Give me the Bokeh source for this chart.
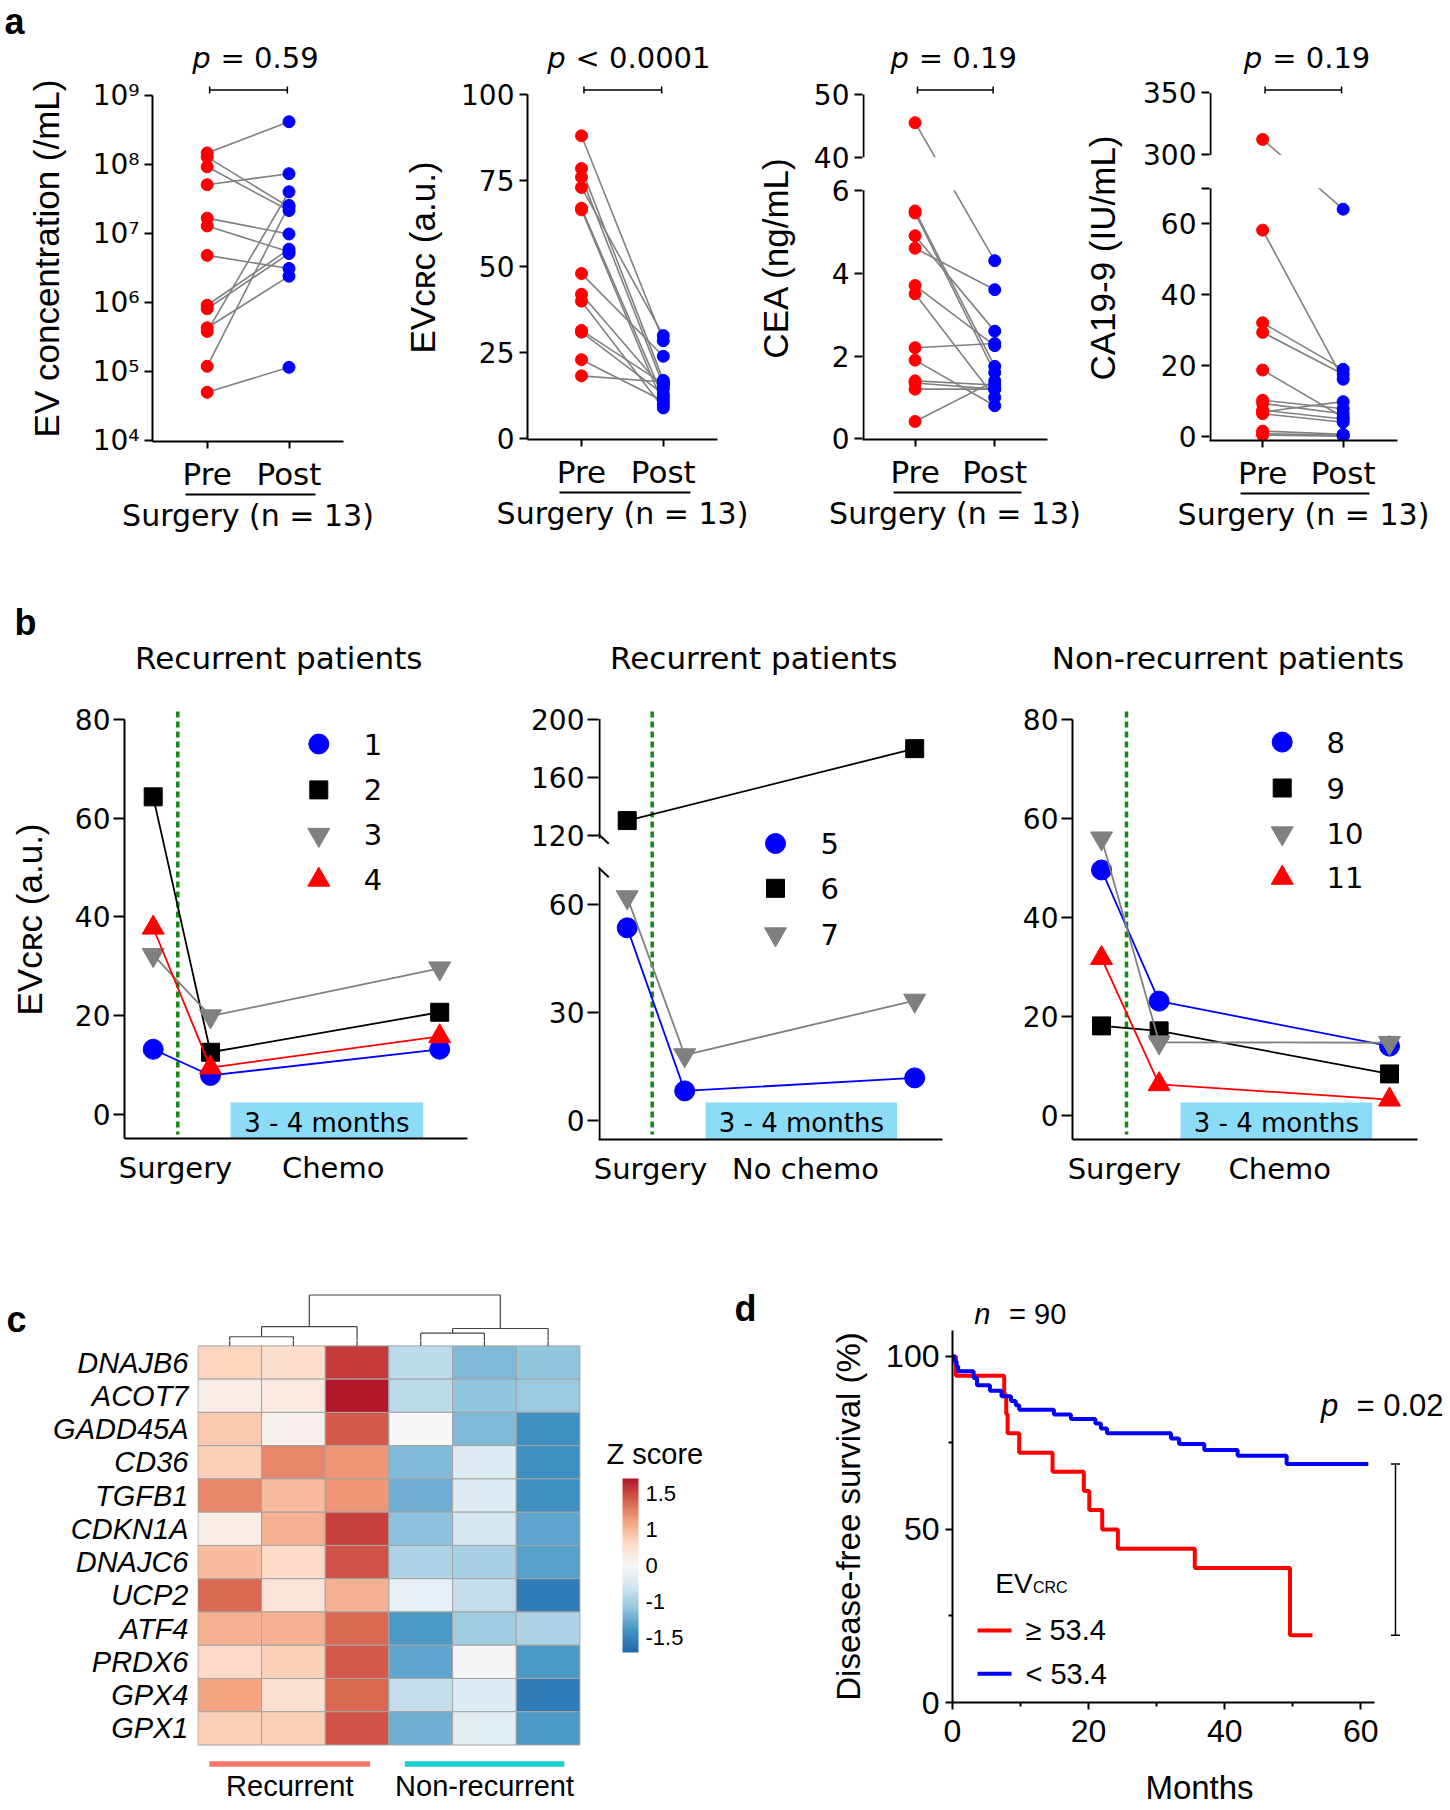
import math
from bokeh.plotting import figure
from bokeh.models import (Range1d, FixedTicker, LinearAxis, LinearColorMapper, ColorBar,
                          ColumnDataSource, AllLabels)
from bokeh.layouts import row, column
from bokeh.core.properties import value
from bokeh.transform import transform
from bokeh.embed import file_html
from bokeh.resources import INLINE

# ============================ DATA ============================
# Panel a: paired values before / after surgery (n = 13)
pair_x = [1, 2]
pair_labels = ["Pre", "Post"]
ev_conc_pre = [1.46e8, 1.27e8, 9.2e7, 5.06e7, 1.66e7, 1.28e7, 4.8e6, 9.1e5, 8.1e5, 4.3e5, 3.8e5, 1.19e5, 5.0e4]
ev_conc_post = [4.13e8, 2.4e7, 2.14e7, 7.3e7, 9.8e6, 5.4e6, 3.1e6, 5.9e6, 5.1e6, 2.4e6, 4.0e7, 2.54e7, 1.15e5]
evcrc_pre = [88, 78.5, 76, 73, 67, 66.5, 48, 42, 40, 31.5, 31, 23, 18.3]
evcrc_post = [28.5, 17, 15.5, 30, 12, 10, 24, 14.5, 9, 16, 13, 11, 16.5]
cea_pre = [45.5, 5.5, 5.45, 4.9, 4.6, 3.7, 3.5, 2.2, 1.9, 1.4, 1.35, 1.2, 0.42]
cea_post = [4.3, 1.75, 1.6, 2.6, 3.6, 2.25, 1.0, 2.3, 0.8, 1.3, 1.2, 1.2, 1.4]
ca199_pre = [312.5, 58.2, 32.1, 29.4, 18.8, 10.3, 9.4, 7.5, 7.0, 6.5, 1.6, 0.9, 0.5]
ca199_post = [64.1, 16.2, 19.0, 17.6, 5.5, 7.9, 6.5, 5.0, 9.9, 4.1, 0.7, 0.4, 0.2]
a_pvalues = ["= 0.59", "< 0.0001", "= 0.19", "= 0.19"]
a_ylabels = ["EV concentration (/mL)", "EV\u1d04\u0280\u1d04 (a.u.)", "CEA (ng/mL)", "CA19-9 (IU/mL)"]
a_xlabel = "Surgery (n = 13)"
ev_ticks = [1e4, 1e5, 1e6, 1e7, 1e8, 1e9]
ev_tick_labels = ["10\u2074", "10\u2075", "10\u2076", "10\u2077", "10\u2078", "10\u2079"]
evcrc_ticks = [0, 25, 50, 75, 100]
cea_ticks = [0, 2, 4, 6, 40, 50]
ca199_ticks = [0, 20, 40, 60, 70, 300, 350]
ca199_tick_labels = ["0", "20", "40", "60", "", "300", "350"]

# Panel b: EV_CRC per patient (surgery pre, post-surgery, after 3-4 months)
b_timepoints = [0, 1, 5]
b1_ids = ["1", "2", "3", "4"]
b1_values = [[13.2, 7.9, 13.2], [64.3, 12.6, 20.7], [32.3, 19.9, 29.6], [37.8, 9.5, 15.8]]
b2_ids = ["5", "6", "7"]
b2_values = [[53.4, 8.3, 11.9], [130.3, None, 179.7], [61.9, 18.2, 33.3]]
b3_ids = ["8", "9", "10", "11"]
b3_values = [[49.5, 23.0, 13.9], [18.0, 17.0, 8.3], [55.9, 14.7, 14.6], [31.7, 6.2, 3.1]]
b_titles = ["Recurrent patients", "Recurrent patients", "Non-recurrent patients"]
b_after = ["Chemo", "No chemo", "Chemo"]
b_interval = "3 - 4 months"
b_ylabel = "EV\u1d04\u0280\u1d04 (a.u.)"
b_ticks = [0, 20, 40, 60, 80]
b2_ticks = [0, 30, 60, 120, 160, 200]

# Panel c: heatmap of z scores
genes = ["DNAJB6", "ACOT7", "GADD45A", "CD36", "TGFB1", "CDKN1A", "DNAJC6", "UCP2",
         "ATF4", "PRDX6", "GPX4", "GPX1"]
zscores = [
    [0.50, 0.40, 1.60, -0.60, -1.00, -0.90],
    [0.15, 0.20, 1.90, -0.60, -0.90, -0.85],
    [0.60, 0.10, 1.40, 0.00, -1.00, -1.40],
    [0.55, 1.10, 1.00, -1.00, -0.30, -1.40],
    [1.10, 0.70, 1.00, -1.10, -0.30, -1.40],
    [0.15, 0.80, 1.55, -0.95, -0.40, -1.20],
    [0.70, 0.45, 1.45, -0.70, -0.75, -1.25],
    [1.30, 0.30, 0.80, -0.20, -0.55, -1.60],
    [0.80, 0.80, 1.30, -1.30, -0.80, -0.70],
    [0.45, 0.55, 1.40, -1.20, -0.05, -1.30],
    [0.90, 0.35, 1.30, -0.55, -0.30, -1.60],
    [0.55, 0.55, 1.45, -1.10, -0.25, -1.30],
]
col_merges = [(0, 1, 0.274), (6, 2, 0.577), (3, 4, 0.382), (8, 5, 0.523), (7, 9, 1.530)]
groups = ["Recurrent", "Non-recurrent"]
group_colors = ["#f8766d", "#18d0d4"]
cbar_ticks = [-1.5, -0.75, 0.0, 0.75, 1.5]
cbar_labels = ["-1.5", "-1", "0", "1", "1.5"]

# Panel d: Kaplan-Meier disease-free survival
km_cutoff = 53.4
km_high_t = [0, 0.5, 7.6, 7.9, 8.1, 9.8, 14.7, 19.3, 20.1, 22.0, 24.3, 35.6, 49.6]
km_high_s = [100, 94.4, 88.9, 83.3, 77.8, 72.2, 66.7, 61.1, 55.6, 50.0, 44.4, 38.9, 19.4]
km_high_end = 52.9
km_low_t = [0, 0.3, 0.6, 0.83, 3.1, 3.6, 5.5, 7.2, 8.6, 9.3, 9.8, 14.9, 17.4, 21.0, 21.8,
            22.7, 32.1, 33.3, 37.0, 41.9, 49.1]
km_low_s = [100, 98.6, 97.2, 95.7, 93.8, 91.7, 90.1, 88.5, 87.1, 85.9, 84.6, 83.2, 81.9, 80.6,
            79.2, 77.8, 76.3, 74.7, 73.0, 71.3, 68.9]
km_low_end = 61.1

# ============================ STYLE ============================
FONT = "DejaVu Sans"
LFONT = "Liberation Sans"
RED, BLUE, GRAY, BLACK = "#ff0000", "#0000ff", "#808080", "#000000"
GREEN = "#138a13"
CYAN = "#8cdcf8"
INF = float("inf")
b_markers = ["circle", "square", "inverted_triangle", "triangle"]
b_colors = [BLUE, BLACK, GRAY, RED]
b_sizes = [20, 18, 22, 22]


class Fig:
    """A figure whose frame sits at given page pixels; X/Y convert page px to data."""

    def __init__(self, canvas, frame, xmap, ymap, ylog=False, xaxis=True, yaxis=True):
        cx0, cy0, cx1, cy1 = canvas
        fx0, fy0, fx1, fy1 = frame
        self.xm, self.ym, self.ylog = xmap, ymap, ylog
        self.fx0, self.fx1, self.fy0, self.fy1 = fx0, fx1, fy0, fy1
        self.p = figure(width=cx1 - cx0, height=cy1 - cy0, title=None,
                        min_border_left=fx0 - cx0, min_border_right=cx1 - fx1,
                        min_border_top=fy0 - cy0, min_border_bottom=cy1 - fy1,
                        x_range=Range1d(self.X(fx0), self.X(fx1)),
                        y_range=Range1d(self.Y(fy1), self.Y(fy0)),
                        y_axis_type="log" if ylog else "linear",
                        x_axis_location="below" if xaxis else None,
                        y_axis_location="left" if yaxis else None,
                        output_backend="svg", toolbar_location=None, tools="")
        p = self.p
        p.outline_line_color = None
        p.grid.visible = False
        p.background_fill_color = "white"
        p.border_fill_color = "white"

    def X(self, px):
        d, a, k = self.xm
        return d + (px - a) / k

    def Y(self, py):
        d, a, k = self.ym
        v = d + (a - py) / k
        return 10 ** v if self.ylog else v


def mini(canvas, xmap):
    return Fig(canvas, canvas, xmap, (0, 0, 1), xaxis=False, yaxis=False)


def seg_py(v, segs):
    for thr, av, apy, k in segs:
        if v >= thr:
            return apy - (v - av) * k
    thr, av, apy, k = segs[-1]
    return apy - (v - av) * k


def style_axis(ax, font, size, tick_out, standoff, lw=2):
    ax.axis_line_color = "black"
    ax.axis_line_width = lw
    ax.major_tick_line_color = "black"
    ax.major_tick_line_width = lw
    ax.major_tick_out = tick_out
    ax.major_tick_in = 0
    ax.minor_tick_line_color = None
    ax.major_label_text_font = font
    ax.major_label_text_font_size = size
    ax.major_label_text_color = "black"
    ax.major_label_standoff = standoff
    ax.axis_label_text_font_style = "normal"
    ax.axis_label_text_color = "black"


def txt(f, px, py, s, size, font=FONT, align="left", style="normal"):
    f.p.text(x=[f.X(px)], y=[f.Y(py)], text=[s], text_font=value(font), text_font_size=size,
             text_align=align, text_baseline="middle", text_font_style=style, text_color="black")


def setup_yaxis(f, pyf, ticks, labels, bounds_hi, axis_segs, tick_out, standoff, ylabel,
                yl_standoff, ylabel_size="35px"):
    ya = f.p.yaxis[0]
    style_axis(ya, FONT, "28px", tick_out, standoff)
    if axis_segs:
        ya.axis_line_color = None
        tk = [round(f.Y(pyf(t)), 4) for t in ticks]
        ya.ticker = FixedTicker(ticks=tk)
        ya.major_label_overrides = dict(zip(tk, labels))
        ax_x = f.X(f.fx0 + 1)
        y0s = [f.p.y_range.start if lo is None else f.Y(pyf(lo)) for lo, hi in axis_segs]
        y1s = [f.Y(pyf(hi)) for lo, hi in axis_segs]
        f.p.segment(x0=[ax_x] * len(y0s), y0=y0s, x1=[ax_x] * len(y0s), y1=y1s,
                    line_color="black", line_width=2)
    else:
        ya.bounds = (f.p.y_range.start, bounds_hi)
        ya.ticker = FixedTicker(ticks=ticks)
        ya.major_label_overrides = dict(zip(ticks, labels))
    if ylabel:
        ya.axis_label = ylabel
        ya.axis_label_text_font = LFONT
        ya.axis_label_text_font_size = ylabel_size
        ya.axis_label_standoff = yl_standoff


# ============================ PANEL a ============================
KX_A = 81.8
T_A = 75


def build_a(cx0, cx1, fx0, fx1, fbot, xpre, ycfg, pre, post, ylabel, yl_standoff,
            pval, p_rel, eq_rel, letter=False):
    xmap = (pair_x[0], xpre, KX_A)
    top = mini((cx0, 0, cx1, T_A), xmap)
    segs = ycfg["segs"]
    log = ycfg.get("log", False)
    if log:
        pyf = lambda v: seg_py(math.log10(v), segs)
        ymap = segs[0][1:]
    else:
        pyf = lambda v: seg_py(v, segs)
        ymap = segs[-1][1:]
    main = Fig((cx0, T_A, cx1, 540), (fx0, T_A, fx1, fbot), xmap, ymap, log)
    n = len(pre)
    p = main.p
    f = main
    ys = [[f.Y(pyf(a)), f.Y(pyf(b))] for a, b in zip(pre, post)]
    p.multi_line(xs=[list(pair_x)] * n, ys=ys, line_color=GRAY, line_width=1.6)
    if "gap" in ycfg:
        g0, g1 = ycfg["gap"]
        p.quad(left=[f.X(fx0 - 5)], right=[f.X(fx1 + 5)], top=[f.Y(g0)], bottom=[f.Y(g1)],
               fill_color="white", line_color=None)
    p.scatter(x=[pair_x[0]] * n, y=[y[0] for y in ys], size=12, fill_color=RED, line_color=RED)
    p.scatter(x=[pair_x[1]] * n, y=[y[1] for y in ys], size=12, fill_color=BLUE, line_color=BLUE)
    yb = 89.5
    x0, x1 = 1.03, 1.98
    p.segment(x0=[x0, x0, x1], y0=[f.Y(yb), f.Y(yb - 3.5), f.Y(yb - 3.5)],
              x1=[x1, x0, x1], y1=[f.Y(yb), f.Y(yb + 3.5), f.Y(yb + 3.5)],
              line_color="black", line_width=1.5)
    txt(top, xpre + p_rel, 57.5, "p", "29px", style="italic")
    txt(top, xpre + eq_rel, 57.5, pval, "29px")
    if letter:
        txt(top, 4, 20.5, "a", "36px", font=LFONT, style="bold")
    setup_yaxis(main, pyf, ycfg["ticks"], ycfg["labels"], ycfg.get("hi"), ycfg.get("axis_segs"),
                8, 5, ylabel, yl_standoff)
    xa = p.xaxis[0]
    style_axis(xa, FONT, "31px", 7, 7)
    xa.ticker = FixedTicker(ticks=pair_x)
    xa.major_label_overrides = dict(zip(pair_x, pair_labels))
    ax2 = LinearAxis(bounds=(0.73, 2.33), ticker=FixedTicker(ticks=[]))
    style_axis(ax2, FONT, "1px", 0, 0)
    ax2.axis_label = a_xlabel
    ax2.axis_label_text_font = FONT
    ax2.axis_label_text_font_size = "30px"
    ax2.axis_label_standoff = 3
    p.add_layout(ax2, "below")
    return column(row(top.p), main.p)


col_a1 = build_a(0, 390, 152, 343, 441, 206.7,
                 dict(segs=[(-INF, 9, 94.7, 69.08)], log=True, ticks=ev_ticks,
                      labels=ev_tick_labels, hi=ev_ticks[-1]),
                 ev_conc_pre, ev_conc_post, a_ylabels[0], 24, a_pvalues[0], -15, 13.3, letter=True)

col_a2 = build_a(390, 752, 527, 717, 439, 581,
                 dict(segs=[(-INF, 100, 94, 3.444)], ticks=evcrc_ticks,
                      labels=[str(t) for t in evcrc_ticks], hi=100),
                 evcrc_pre, evcrc_post, a_ylabels[1], 16, a_pvalues[1], -34.3, -6)

col_a3 = build_a(752, 1080, 857, 1047, 439, 911,
                 dict(segs=[(20, 50, 94, 6.27), (-INF, 0, 438.4, 41.45)], ticks=cea_ticks,
                      labels=[str(t) for t in cea_ticks], axis_segs=[(None, 6), (40, 50)],
                      gap=(156.7, 189.7)),
                 cea_pre, cea_post, a_ylabels[2], 16, a_pvalues[2], -21, 7.3)

col_a4 = build_a(1080, 1446, 1206, 1397, 440, 1260,
                 dict(segs=[(100, 350, 92.5, 1.238), (-INF, 0, 436.3, 3.551)], ticks=ca199_ticks,
                      labels=ca199_tick_labels, axis_segs=[(None, 70), (300, 350)],
                      gap=(154.4, 187.7)),
                 ca199_pre, ca199_post, a_ylabels[3], 18, a_pvalues[3], -16.7, 11.7)


# ============================ PANEL b ============================
def build_b(cx0, cx1, fx0, fx1, fbot, xmap, ycfg, ids, values, cfg, ylabel=None, yl_standoff=0,
            letter=False):
    top = mini((cx0, 540, cx1, 700), xmap)
    segs = ycfg["segs"]
    pyf = lambda v: seg_py(v, segs)
    main = Fig((cx0, 700, cx1, 1200), (fx0, 700, fx1, fbot), xmap, segs[-1][1:])
    f = main
    p = main.p
    gx = f.X(cfg["green"])
    p.segment(x0=[gx], y0=[f.Y(711)], x1=[gx], y1=[f.Y(1134)], line_color=GREEN,
              line_width=3.5, line_dash="6 4")
    b0, b1_ = cfg["box"]
    p.quad(left=[f.X(b0)], right=[f.X(b1_)], bottom=[f.Y(1160)], top=[f.Y(1102)],
           fill_color=CYAN, line_color=None)
    txt(f, (b0 + b1_) / 2, 1122.8, b_interval, "26px", align="center")
    for k, (pid, vals) in enumerate(zip(ids, values)):
        pts = [(t, v) for t, v in zip(b_timepoints, vals) if v is not None]
        xs = [t for t, _ in pts]
        ys = [f.Y(pyf(v)) for _, v in pts]
        p.line(xs, ys, line_color=b_colors[k], line_width=1.8)
        p.scatter(xs, ys, marker=b_markers[k], size=b_sizes[k], fill_color=b_colors[k],
                  line_color=b_colors[k])
        ry = cfg["rows"][k]
        p.scatter([f.X(cfg["mx"])], [f.Y(ry)], marker=b_markers[k], size=b_sizes[k],
                  fill_color=b_colors[k], line_color=b_colors[k])
        txt(f, cfg["tx"], ry, pid, "29px")
    for (bx0, by0, bx1, by1) in cfg.get("breaks", []):
        p.segment(x0=[f.X(bx0)], y0=[f.Y(by0)], x1=[f.X(bx1)], y1=[f.Y(by1)],
                  line_color="black", line_width=2)
    txt(top, cfg["title_x"], 657, cfg["title"], "31px", align="center")
    if letter:
        txt(top, 14, 621.9, "b", "36px", font=LFONT, style="bold")
    setup_yaxis(main, pyf, ycfg["ticks"], [str(t) for t in ycfg["ticks"]], ycfg.get("hi"),
                ycfg.get("axis_segs"), 11, 3, ylabel, yl_standoff)
    xa = p.xaxis[0]
    style_axis(xa, FONT, "29px", 0, 12)
    xa.major_tick_line_color = None
    tk = [round(main.X(px), 3) for px, _ in cfg["xlabels"]]
    xa.ticker = FixedTicker(ticks=tk)
    xa.major_label_overrides = {t: lb for t, (_, lb) in zip(tk, cfg["xlabels"])}
    return column(row(top.p), main.p)


col_b1 = build_b(0, 500, 124, 467, 1138, (0, 152.7, 57.3),
                 dict(segs=[(-INF, 0, 1114, 4.94)], ticks=b_ticks, hi=80),
                 b1_ids, b1_values,
                 dict(green=177.3, box=(230, 422.7), title=b_titles[0], title_x=278.3,
                      mx=318.3, tx=363.3, rows=[743.5, 789.4, 834.2, 879.3],
                      xlabels=[(175, "Surgery"), (332.7, b_after[0])]),
                 ylabel=b_ylabel, yl_standoff=23, letter=True)

col_b2 = build_b(500, 985, 598, 942, 1139, (0, 626.7, 57.5),
                 dict(segs=[(90, 200, 718.6, 1.4555), (-INF, 0, 1120.4, 3.615)], ticks=b2_ticks,
                      axis_segs=[(None, 70), (117.9, 200)]),
                 b2_ids, b2_values,
                 dict(green=651.7, box=(705, 896.7), title=b_titles[1], title_x=753.3,
                      mx=775, tx=820, rows=[843, 887.8, 933.7],
                      xlabels=[(650, "Surgery"), (805, b_after[1])],
                      breaks=[(588.3, 825, 608.3, 843.3), (588.3, 858.3, 608.3, 876.7)]))

col_b3 = build_b(985, 1446, 1072, 1417, 1139, (0, 1101, 57.6),
                 dict(segs=[(-INF, 0, 1114.5, 4.95)], ticks=b_ticks, hi=80),
                 b3_ids, b3_values,
                 dict(green=1126, box=(1180, 1371.7), title=b_titles[2], title_x=1227.5,
                      mx=1281.7, tx=1326, rows=[741.6, 787.5, 832.7, 877.4],
                      xlabels=[(1124, "Surgery"), (1279.3, b_after[2])]))


# ============================ PANEL c ============================
def interp(cols, n):
    rgb = [tuple(int(c[i:i + 2], 16) for i in (1, 3, 5)) for c in cols]
    out = []
    for k in range(n):
        t = k / (n - 1) * (len(rgb) - 1)
        i = min(int(t), len(rgb) - 2)
        fr = t - i
        out.append("#%02x%02x%02x" % tuple(round(rgb[i][j] * (1 - fr) + rgb[i + 1][j] * fr)
                                           for j in range(3)))
    return out


PAL = interp(["#2166ac", "#4393c3", "#92c5de", "#d1e5f0", "#f7f7f7", "#fddbc7", "#f4a582",
              "#d6604d", "#b2182b"], 256)
XM_C = (0, 197.4, 63.67)
YM_C = (0, 1744.5, 33.26)
c_top = Fig((0, 1200, 720, 1340), (0, 1200, 720, 1340), XM_C, YM_C, xaxis=False, yaxis=False)
c_main = Fig((0, 1340, 600, 1808), (197, 1340, 590, 1767), XM_C, YM_C)
c_cb = Fig((600, 1340, 720, 1808), (600, 1340, 720, 1767), XM_C, YM_C, xaxis=False, yaxis=False)
ng, ncol = len(genes), len(zscores[0])
mapper = LinearColorMapper(palette=PAL, low=-1.82, high=1.82)
hx, hy, hz = [], [], []
for r in range(ng):
    for c in range(ncol):
        hx.append(c + 0.5)
        hy.append(ng - r - 0.5)
        hz.append(zscores[r][c])
c_main.p.rect("x", "y", 1, 1, source=ColumnDataSource(dict(x=hx, y=hy, z=hz)),
              fill_color=transform("z", mapper), line_color="#a4a4a4", line_width=1)
nodes = {i: (i + 0.5, 0.0) for i in range(ncol)}
dx0, dy0, dx1, dy1 = [], [], [], []
for k, (a, b, h) in enumerate(col_merges):
    xa_, ha = nodes[a]
    xb_, hb = nodes[b]
    dx0 += [xa_, xb_, xa_]
    dy0 += [ng + ha, ng + hb, ng + h]
    dx1 += [xa_, xb_, xb_]
    dy1 += [ng + h, ng + h, ng + h]
    nodes[ncol + k] = ((xa_ + xb_) / 2, h)
for f in (c_top, c_main):
    f.p.segment(x0=dx0, y0=dy0, x1=dx1, y1=dy1, line_color="#444444", line_width=1.2)
group_spans = [(0.18, 2.705), (3.25, 5.755)]
ybar = c_main.Y(1763.4)
c_main.p.quad(left=[s[0] for s in group_spans], right=[s[1] for s in group_spans],
              bottom=[ybar - 0.083] * 2, top=[ybar + 0.083] * 2, fill_color=group_colors,
              line_color=None)
ya = c_main.p.yaxis[0]
style_axis(ya, LFONT, "29px", 0, 9)
ya.axis_line_color = None
ya.major_tick_line_color = None
ya.major_label_text_font_style = "italic"
gy = [ng - r - 0.5 for r in range(ng)]
ya.ticker = FixedTicker(ticks=gy)
ya.major_label_overrides = dict(zip(gy, genes))
xa = c_main.p.xaxis[0]
style_axis(xa, LFONT, "29px", 0, 2)
xa.axis_line_color = None
xa.major_tick_line_color = None
gcent = [round((s[0] + s[1]) / 2, 3) for s in group_spans]
xa.ticker = FixedTicker(ticks=gcent)
xa.major_label_overrides = dict(zip(gcent, groups))
cb = ColorBar(color_mapper=mapper, ticker=FixedTicker(ticks=cbar_ticks),
              major_label_overrides=dict(zip(cbar_ticks, cbar_labels)),
              major_label_policy=AllLabels(),
              width=16, height=174, location=(22, 115), padding=0, margin=0,
              major_tick_line_color=None, bar_line_color=None, border_line_color=None,
              background_fill_alpha=0, label_standoff=7, major_label_text_font=LFONT,
              major_label_text_font_size="22px", major_label_text_color="black")
c_cb.p.add_layout(cb)
txt(c_cb, 606, 1453, "Z score", "29px", font=LFONT)
txt(c_top, 6, 1319, "c", "36px", font=LFONT, style="bold")

# ============================ PANEL d ============================
XM_D = (0, 952, 6.805)
YM_D = (0, 1704, 3.479)
D_SPLIT = 1330
d_top = Fig((720, 1200, 1446, D_SPLIT), (720, 1200, 1446, D_SPLIT), XM_D, YM_D,
            xaxis=False, yaxis=False)
d_main = Fig((720, D_SPLIT, 1446, 1808), (952, D_SPLIT, 1446, 1704), XM_D, YM_D)
pd_ = d_main.p
pd_.step(km_high_t + [km_high_end], km_high_s + [km_high_s[-1]], mode="after",
         line_color=RED, line_width=4)
pd_.step(km_low_t + [km_low_end], km_low_s + [km_low_s[-1]], mode="after",
         line_color=BLUE, line_width=4)
bx = d_main.X(1395)
cw = 4.5 / 6.805
pd_.segment(x0=[bx, bx - cw, bx - cw], y0=[km_high_s[-1], km_high_s[-1], km_low_s[-1]],
            x1=[bx, bx + cw, bx + cw], y1=[km_low_s[-1], km_high_s[-1], km_low_s[-1]],
            line_color="black", line_width=1.5)
xa = pd_.xaxis[0]
style_axis(xa, LFONT, "32px", 7, 10)
xa.ticker = FixedTicker(ticks=[0, 20, 40, 60], minor_ticks=[10, 30, 50])
xa.minor_tick_line_color = "black"
xa.minor_tick_line_width = 2
xa.minor_tick_out = 4
xa.minor_tick_in = 0
xa.bounds = (0, 62)
xa.axis_label = "Months"
xa.axis_label_text_font = LFONT
xa.axis_label_text_font_size = "33px"
xa.axis_label_standoff = 24
ya = pd_.yaxis[0]
style_axis(ya, LFONT, "32px", 7, 6)
ya.ticker = FixedTicker(ticks=[0, 50, 100], minor_ticks=[25, 75])
ya.minor_tick_line_color = "black"
ya.minor_tick_line_width = 2
ya.minor_tick_out = 4
ya.minor_tick_in = 0
ya.bounds = (0, 110)
ya.axis_label = "Disease-free survival (%)"
ya.axis_label_text_font = LFONT
ya.axis_label_text_font_size = "33px"
ya.axis_label_standoff = 16
txt(d_top, 973.7, 1313.5, "n", "29px", font=LFONT, style="italic")
txt(d_top, 1008.6, 1313.5, "= 90", "29px", font=LFONT)
txt(d_main, 1320.6, 1405.4, "p", "31px", font=LFONT, style="italic")
txt(d_main, 1356, 1405.4, "= 0.02", "31px", font=LFONT)
txt(d_main, 994.7, 1584.4, "EV", "28px", font=LFONT)
txt(d_main, 1032.5, 1588.7, "CRC", "16px", font=LFONT)
pd_.segment(x0=[d_main.X(977)] * 2, y0=[d_main.Y(1631.5), d_main.Y(1675.1)],
            x1=[d_main.X(1011)] * 2, y1=[d_main.Y(1631.5), d_main.Y(1675.1)],
            line_color=[RED, BLUE], line_width=4)
txt(d_main, 1025, 1631.5, "\u2265 %.1f" % km_cutoff, "29px", font=LFONT)
txt(d_main, 1025, 1675.1, "< %.1f" % km_cutoff, "29px", font=LFONT)
txt(d_top, 734, 1308, "d", "36px", font=LFONT, style="bold")

# ============================ LAYOUT ============================
row1 = row(col_a1, col_a2, col_a3, col_a4)
row2 = row(col_b1, col_b2, col_b3)
row3 = row(column(row(c_top.p), row(c_main.p, c_cb.p)), column(row(d_top.p), d_main.p))
layout = column(row1, row2, row3)
open("out.html", "w").write(file_html(layout, INLINE, "EV figure"))
